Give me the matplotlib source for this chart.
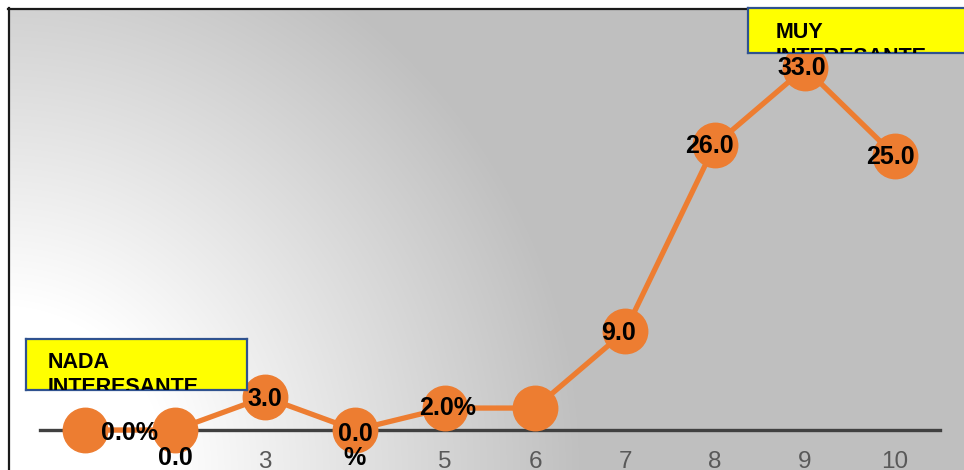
import numpy as np
import matplotlib
matplotlib.use("Agg")
import matplotlib.pyplot as plt
from matplotlib.lines import Line2D

plt.rcParams['font.family'] = ['Liberation Sans', 'DejaVu Sans']

# ---- data ----
categories = [1, 2, 3, 4, 5, 6, 7, 8, 9, 10]
values = [0.0, 0.0, 3.0, 0.0, 2.0, 2.0, 9.0, 26.0, 33.0, 25.0]
point_labels = ['0.0%', '0.0', '3.0', '0.0\n%', '2.0%', '', '9.0', '26.0', '33.0', '25.0']
tick_labels = ['', '', '3', '', '5', '6', '7', '8', '9', '10']
low_note = 'NADA\nINTERESANTE'
high_note = 'MUY\nINTERESANTE'

# label offsets in pixels (dx, dy) relative to each marker
label_offsets = [(44, -3), (0, -28), (0, -2), (0, -16), (3, 0), (0, 0),
                 (-7, -2), (-6, -1), (-3, 0), (-5, -1)]

W, H = 964, 470
DPI = 100
fig = plt.figure(figsize=(W / DPI, H / DPI), dpi=DPI)

# ---- background radial gradient (white in bottom-left corner -> grey) ----
yy, xx = np.mgrid[0:H, 0:W]
cx, cy = 0.0, 470.0
r = np.hypot(xx - cx, yy - cy)
t = np.clip((r - 165) / 420.0, 0, 1)
val = 1.0 - (1.0 - 191 / 255) * t
img = np.dstack([val, val, val])
img[:8, :, :] = 1.0
img[:, :8, :] = 1.0
fig.figimage(img, xo=0, yo=0, origin='upper', zorder=-5)

# chart-area border (left and top)
fig.add_artist(Line2D([8.5 / W, 8.5 / W], [0, (H - 8) / H], transform=fig.transFigure,
                      color='#1a1a1a', lw=1.6))
fig.add_artist(Line2D([8 / W, 1], [(H - 8.5) / H, (H - 8.5) / H], transform=fig.transFigure,
                      color='#1a1a1a', lw=1.6))

# ---- main axes ----
px_per_unit = 10.97
ax = fig.add_axes([40 / W, 40 / H, 900 / W, 430 / H])
ax.set_facecolor('none')
ax.set_xlim(0.5, 10.5)
ax.set_ylim(0, 430 / px_per_unit)
for s in ['top', 'right', 'left']:
    ax.spines[s].set_visible(False)
ax.spines['bottom'].set_color('#404040')
ax.spines['bottom'].set_linewidth(2.4)
ax.spines['bottom'].set_zorder(1)
ax.set_yticks([])
ax.set_xticks(categories)
ax.set_xticklabels(tick_labels, fontsize=17.5, color='#595959')
ax.tick_params(axis='x', length=0, pad=15)

orange = '#ed7d31'
ax.plot(categories, values, color=orange, lw=3.8, marker='o', markersize=32,
        markeredgecolor=orange, clip_on=False, zorder=3)

for x, v, lab, (dx, dy) in zip(categories, values, point_labels, label_offsets):
    if lab:
        ax.annotate(lab, (x, v), xytext=(dx * 0.72, dy * 0.72), textcoords='offset points',
                    ha='center', va='center', fontsize=18, fontweight='bold', color='black',
                    linespacing=0.95, annotation_clip=False, zorder=5)

# ---- note boxes ----
def note_box(left, top, width, height, text, tx, ty):
    b = fig.add_axes([left / W, (H - top - height) / H, width / W, height / H])
    b.set_facecolor('#ffff00')
    b.set_xticks([])
    b.set_yticks([])
    for s in b.spines.values():
        s.set_color('#2f528f')
        s.set_linewidth(1.6)
    b.set_xlim(0, width)
    b.set_ylim(height, 0)
    b.set_zorder(10)
    txt = b.text(tx, ty, text, ha='left', va='top', fontsize=15.5, fontweight='bold',
                 color='black', linespacing=1.25, clip_on=True)
    txt.set_clip_path(b.patch)
    return b

note_box(26, 339, 221, 51, low_note, 22, 13)
note_box(748, 8, 240, 45, high_note, 28, 14)

fig.savefig('out.png', dpi=DPI)
